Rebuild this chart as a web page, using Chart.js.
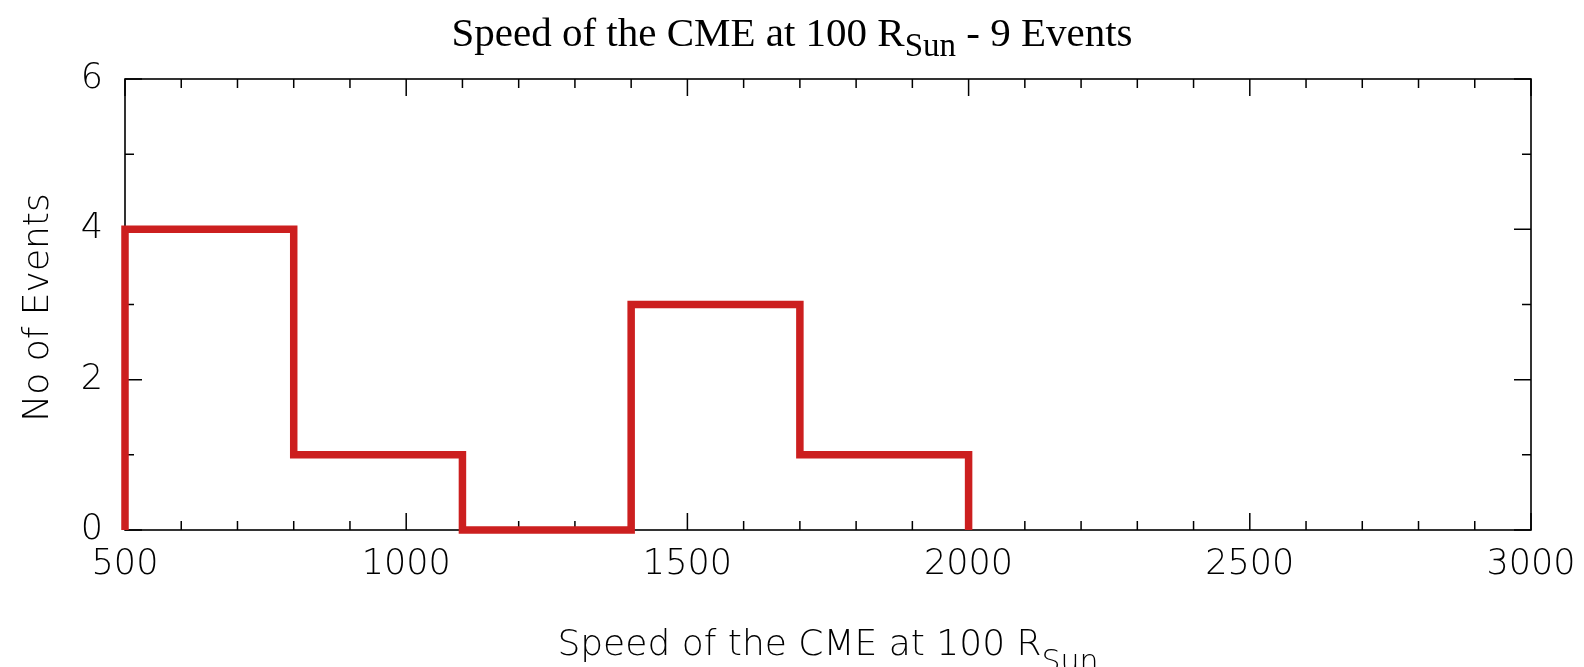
<!DOCTYPE html>
<html>
<head>
<meta charset="utf-8">
<script src="https://cdn.jsdelivr.net/npm/chart.js@4.4.0/dist/chart.umd.min.js"></script>
<style>
  html, body { margin: 0; padding: 0; background: #fff; }
  #wrap { width: 1584px; height: 667px; }
</style>
</head>
<body>
<div id="wrap"><canvas id="histChart" width="1584" height="667"></canvas></div>
<script>
// Histogram data: bin edges and counts
const binEdges = [500, 800, 1100, 1400, 1700, 2000];
const binCounts = [4, 1, 0, 3, 1];

// Axis ticks
const xTicks = [500, 1000, 1500, 2000, 2500, 3000];
const yTicks = [0, 2, 4, 6];
const xMinorStep = 100;
const yMinorStep = 1;

const labelFont = '200 36px "DejaVu Sans"';

// Build step outline from the bins
const stepPoints = [{ x: binEdges[0], y: 0 }];
binCounts.forEach((c, i) => {
    stepPoints.push({ x: binEdges[i], y: c });
    stepPoints.push({ x: binEdges[i + 1], y: c });
});
stepPoints.push({ x: binEdges[binEdges.length - 1], y: 0 });

// Draw a text with a subscript part in the middle
function drawSubText(ctx, x, y, before, sub, after, font, subFont, subDrop, align) {
    ctx.font = font;
    const w1 = ctx.measureText(before).width;
    const w3 = ctx.measureText(after).width;
    ctx.font = subFont;
    const w2 = ctx.measureText(sub).width;
    const total = w1 + w2 + w3;
    let start = align === 'center' ? x - total / 2 : x;
    ctx.textAlign = 'left';
    ctx.textBaseline = 'alphabetic';
    ctx.font = font;
    ctx.fillText(before, start, y);
    ctx.font = subFont;
    ctx.fillText(sub, start + w1, y + subDrop);
    ctx.font = font;
    ctx.fillText(after, start + w1 + w2, y);
}

// Frame + inward ticks on all four sides
const framePlugin = {
    id: 'frame',
    beforeDatasetsDraw(chart) {
        const { ctx, chartArea: a, scales } = chart;
        const xs = scales.x, ys = scales.y;
        ctx.save();
        ctx.strokeStyle = '#000';
        ctx.lineWidth = 1.6;
        ctx.strokeRect(a.left, a.top, a.right - a.left, a.bottom - a.top);
        ctx.lineWidth = 1.5;
        ctx.beginPath();
        for (let v = xs.min; v <= xs.max; v += xMinorStep) {
            const px = xs.getPixelForValue(v);
            const len = xTicks.includes(v) ? 17 : 9;
            ctx.moveTo(px, a.bottom); ctx.lineTo(px, a.bottom - len);
            ctx.moveTo(px, a.top); ctx.lineTo(px, a.top + len);
        }
        for (let v = ys.min; v <= ys.max; v += yMinorStep) {
            const py = ys.getPixelForValue(v);
            const len = yTicks.includes(v) ? 17 : 9;
            ctx.moveTo(a.left, py); ctx.lineTo(a.left + len, py);
            ctx.moveTo(a.right, py); ctx.lineTo(a.right - len, py);
        }
        ctx.stroke();
        ctx.restore();
    },
    afterDraw(chart) {
        const { ctx, chartArea: a } = chart;
        ctx.save();
        ctx.fillStyle = '#000';
        // main title (serif)
        drawSubText(ctx, chart.width / 2, 46, 'Speed of the CME at 100 R', 'Sun', ' - 9 Events',
            '41px "Liberation Serif"', '33px "Liberation Serif"', 10, 'center');
        // x axis title
        drawSubText(ctx, (a.left + a.right) / 2, 655, 'Speed of the CME at 100 R', 'Sun', '',
            labelFont, '200 30px "DejaVu Sans"', 16, 'center');
        // y axis title
        ctx.translate(48, (a.top + a.bottom) / 2 + 3);
        ctx.rotate(-Math.PI / 2);
        ctx.font = labelFont;
        ctx.textAlign = 'center';
        ctx.textBaseline = 'alphabetic';
        ctx.fillText('No of Events', 0, 0);
        ctx.restore();
    }
};

document.addEventListener('DOMContentLoaded', function () {
    const ctx = document.getElementById('histChart').getContext('2d');

    new Chart(ctx, {
        type: 'line',
        data: {
            datasets: [{
                data: stepPoints,
                borderColor: '#cc1f1f',
                borderWidth: 7.5,
                borderJoinStyle: 'miter',
                borderCapStyle: 'butt',
                pointRadius: 0,
                fill: false,
                tension: 0,
                clip: false,
            }]
        },
        options: {
            responsive: false,
            animation: false,
            layout: {
                padding: { top: 79, right: 53, bottom: 0, left: 0 }
            },
            scales: {
                x: {
                    type: 'linear',
                    min: 500,
                    max: 3000,
                    afterBuildTicks: (scale) => { scale.ticks = xTicks.map(v => ({ value: v })); },
                    afterFit: (scale) => {
                        scale.height = 137;
                        scale.paddingLeft = 0;
                        scale.paddingRight = 0;
                    },
                    grid: { display: false, drawTicks: false },
                    border: { display: false },
                    ticks: {
                        color: '#000',
                        padding: 14,
                        maxRotation: 0,
                        callback: (v) => String(v),
                        font: { family: 'DejaVu Sans', size: 35, weight: '200' },
                    },
                },
                y: {
                    min: 0,
                    max: 6,
                    afterBuildTicks: (scale) => { scale.ticks = yTicks.map(v => ({ value: v })); },
                    afterFit: (scale) => {
                        scale.width = 125;
                        scale.paddingTop = 0;
                        scale.paddingBottom = 0;
                    },
                    grid: { display: false, drawTicks: false },
                    border: { display: false },
                    ticks: {
                        color: '#000',
                        padding: 22,
                        callback: (v) => String(v),
                        font: { family: 'DejaVu Sans', size: 35, weight: '200' },
                    },
                },
            },
            plugins: {
                legend: { display: false },
                title: { display: false },
                tooltip: { enabled: false },
            },
        },
        plugins: [framePlugin]
    });
});
</script>
</body>
</html>
